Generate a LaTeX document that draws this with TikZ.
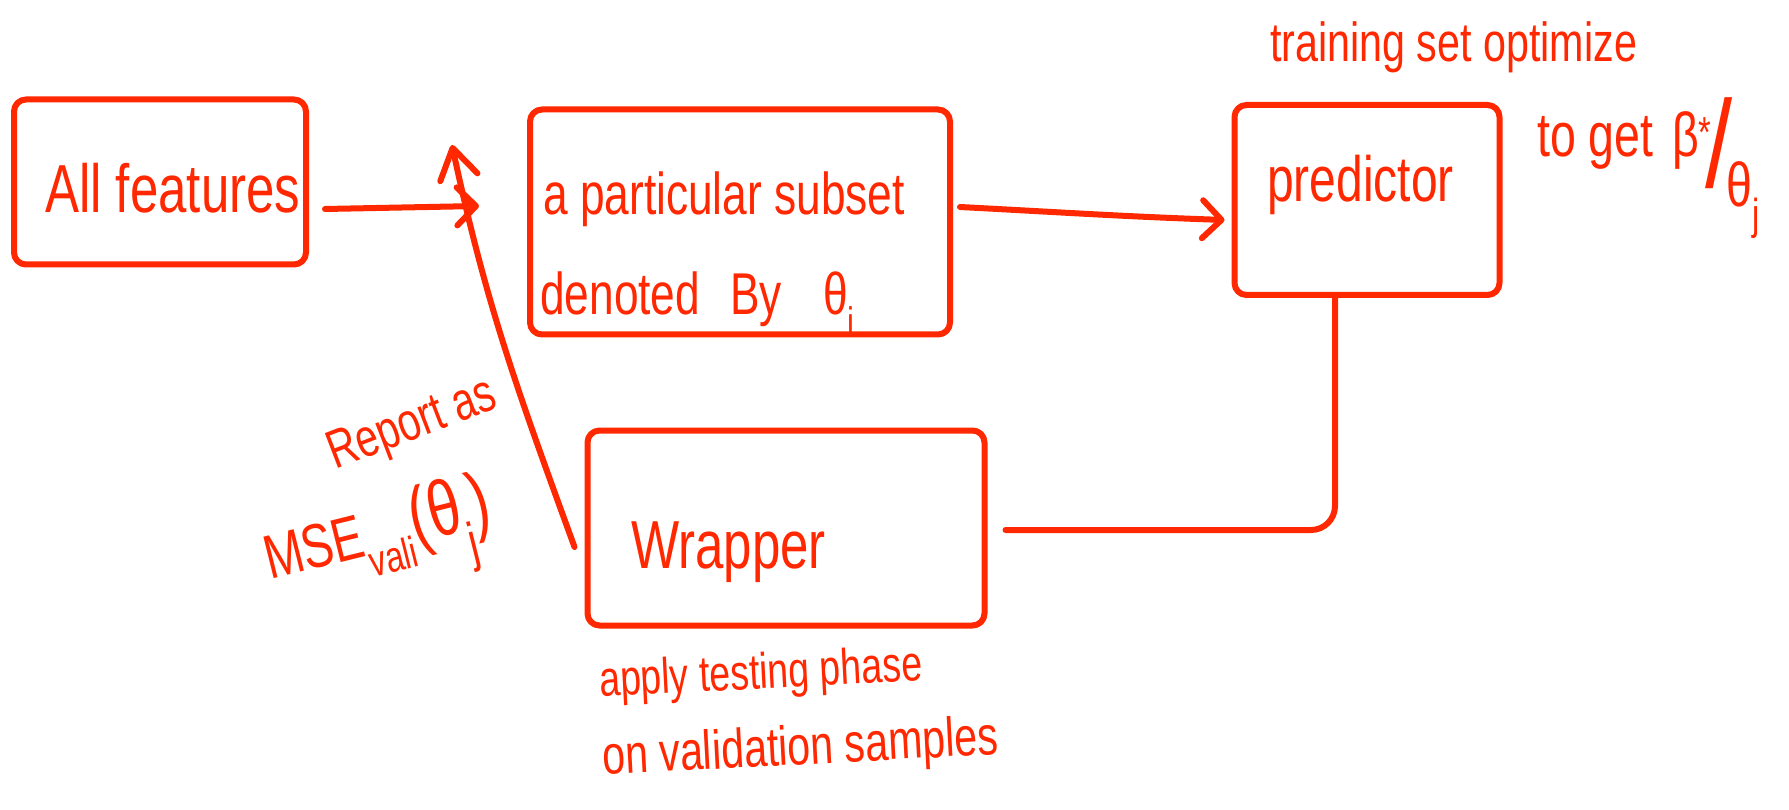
\documentclass[tikz,border=0pt]{standalone}
\usepackage{fontspec}
\setmainfont{Liberation Sans}[FakeStretch=0.75]
\usepackage{graphicx}
\usetikzlibrary{arrows.meta}
\definecolor{ink}{RGB}{255,40,0}
\begin{document}
\begin{tikzpicture}[x=1pt,y=-1pt,
  pen/.style={draw=ink, line width=6pt, line cap=round, line join=round},
  box/.style={pen, rectangle, rounded corners=12pt, inner sep=0pt},
  hand/.style={text=ink, inner sep=0pt, anchor=base west},
  barb/.style={-{Straight Barb[round, length=19pt, width=38pt]}},
]
\fill[white] (0,0) rectangle (1789,810);
\useasboundingbox (0,0) rectangle (1789,810);

% boxes
\node[box, minimum width=292pt, minimum height=165pt] (feat)   at (160,182) {};
\node[box, minimum width=420pt, minimum height=225pt] (subset) at (740,222) {};
\node[box, minimum width=265pt, minimum height=190pt] (pred)   at (1367,200) {};
\node[box, minimum width=397pt, minimum height=195pt] (wrap)   at (786,528) {};

% box texts
\node[hand, font=\fontsize{68pt}{80pt}\selectfont] (featText) at (45,213) {All features};
\node[hand, font=\fontsize{59pt}{70pt}\selectfont] (subsetTextA) at (543,215) {a particular subset};
\node[hand, font=\fontsize{59pt}{70pt}\selectfont] (subsetTextB) at (540,315) {denoted\hspace{0.3em} By\hspace{0.7em}θ\textsubscript{i}};
\node[hand, font=\fontsize{64pt}{76pt}\selectfont] (predText) at (1267,202) {predictor};
\node[hand, font=\fontsize{68pt}{80pt}\selectfont] (wrapText) at (631,568) {Wrapper};

% annotations
\node[hand, font=\fontsize{55pt}{66pt}\selectfont] (trainNote) at (1270,62) {training set optimize};
\node[hand, font=\fontsize{62pt}{74pt}\selectfont] (getNote) at (1537,157)
  {to get\hspace{0.3em}β\textsuperscript{*}\hspace{-0.1em}\raisebox{-0.5em}{\scalebox{2.1}[2.0]{/}}\hspace{-0.1em}\raisebox{-0.8em}{θ\textsubscript{j}}};
\node[hand, font=\fontsize{54pt}{64pt}\selectfont, rotate=21] (reportNote) at (335,470) {Report as};
\node[hand, font=\fontsize{62pt}{74pt}\selectfont, rotate=14] (mseNote) at (270,580)
  {MSE\textsubscript{vali}{\fontsize{78pt}{90pt}\selectfont(θ\textsubscript{j})}};
\node[hand, font=\fontsize{50pt}{60pt}\selectfont, rotate=3] (applyNote) at (600,697) {apply testing phase};
\node[hand, font=\fontsize{55pt}{66pt}\selectfont, rotate=3] (sampleNote) at (603,775) {on validation samples};

% connectors
\draw[pen, barb] ([xshift=16pt,yshift=-27pt]feat.east) -- ([xshift=-48pt,yshift=16pt]subset.west);
\draw[pen, barb] ([xshift=7pt,yshift=15pt]subset.east) to[out=-3,in=178] ([xshift=-7pt,yshift=-20pt]pred.west);
\draw[pen, rounded corners=24pt] ([xshift=-32pt]pred.south) |- ([xshift=18pt,yshift=-2pt]wrap.east);
\coordinate (tip) at (452,145);
\draw[pen, -{Straight Barb[round, length=30pt, width=38pt]}] ([xshift=-10pt,yshift=-19pt]wrap.west) to[out=110,in=-78] (tip);
\end{tikzpicture}
\end{document}
